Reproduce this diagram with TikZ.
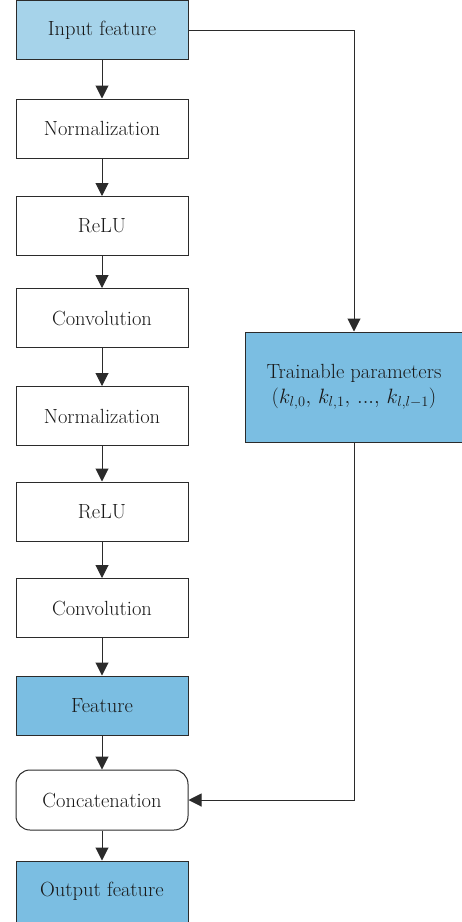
\documentclass[tikz,border=0pt]{standalone}
\usetikzlibrary{arrows.meta}
\definecolor{lightblue}{HTML}{A6D3EA}
\definecolor{midblue}{HTML}{7BBEE2}
\definecolor{edge}{HTML}{2B2B2B}
\begin{document}
\begin{tikzpicture}[x=1pt,y=-1pt,
  font=\fontsize{20.5}{24}\selectfont,
  stepbox/.style={draw=edge, line width=1pt, minimum width=172pt, minimum height=59pt, inner sep=0pt, text=black!90},
  flow/.style={draw=edge, line width=1pt, -{Triangle[width=13pt,length=13pt]}}]
\useasboundingbox (0,0) rectangle (462,922);
\node[stepbox, fill=lightblue] (in) at (102,30) {Input feature};
\node[stepbox] (n1) at (102,128.5) {Normalization};
\node[stepbox] (r1) at (102,226) {ReLU};
\node[stepbox] (c1) at (102,318) {Convolution};
\node[stepbox] (n2) at (102,416) {Normalization};
\node[stepbox] (r2) at (102,511.5) {ReLU};
\node[stepbox] (c2) at (102,608) {Convolution};
\node[stepbox, fill=midblue] (ft) at (102,705.5) {Feature};
\node[stepbox, rounded corners=14pt, minimum height=60pt] (cat) at (102,800) {Concatenation};
\node[stepbox, fill=midblue, minimum height=61pt] (out) at (102,891.5) {Output feature};
\node[stepbox, fill=midblue, minimum width=218pt, minimum height=110pt, align=center] (tp) at (354,387)
  {Trainable parameters\\[1pt]$(k_{l,0},\, k_{l,1},\, ...,\, k_{l,l-1})$};
\draw[flow] (in) -- (n1);
\draw[flow] (n1) -- (r1);
\draw[flow] (r1) -- (c1);
\draw[flow] (c1) -- (n2);
\draw[flow] (n2) -- (r2);
\draw[flow] (r2) -- (c2);
\draw[flow] (c2) -- (ft);
\draw[flow] (ft) -- (cat);
\draw[flow] (cat) -- (out);
\draw[flow] (in.east) -| (tp.north);
\draw[flow] (tp.south) |- (cat.east);
\end{tikzpicture}
\end{document}
